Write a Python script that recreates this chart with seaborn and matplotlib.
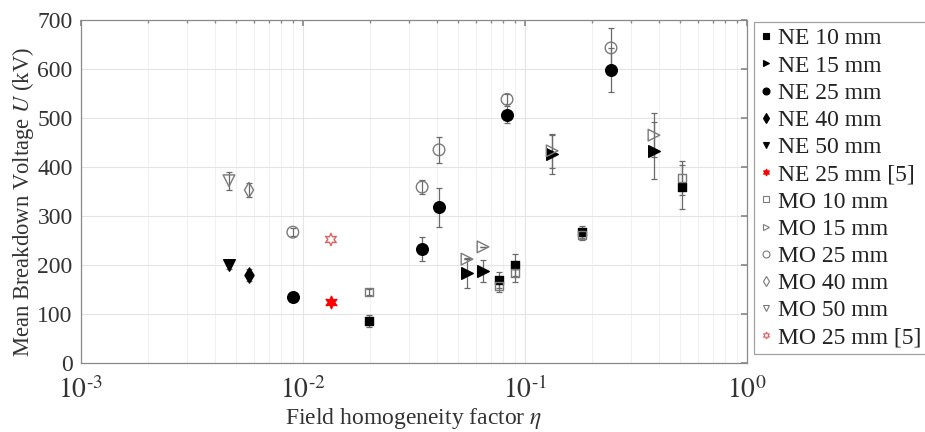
import matplotlib
matplotlib.use("Agg")
import matplotlib.pyplot as plt
from matplotlib.lines import Line2D
from matplotlib.ticker import FixedLocator, LogLocator, NullFormatter, FixedFormatter
import seaborn as sns
import pandas as pd

# ---- data ----
ne10_eta = [0.0198, 0.0764, 0.0902, 0.181, 0.509]
ne10_u = [86, 169, 200, 267, 359]
ne10_err = [12, 16, 22, 12, 45]
mo10_eta = [0.0198, 0.0764, 0.0902, 0.181, 0.509]
mo10_u = [145, 157, 184, 261, 378]
mo10_err = [6, 12, 18, 10, 35]

ne15_eta = [0.0548, 0.0647, 0.1325, 0.381]
ne15_u = [184, 188, 426, 433]
ne15_err = [31, 22, 40, 58]
mo15_eta = [0.0548, 0.0647, 0.1325, 0.381]
mo15_u = [212, 237, 433, 465]
mo15_err = [0, 0, 35, 45]

ne25_eta = [0.0090, 0.0344, 0.041, 0.083, 0.244]
ne25_u = [135, 233, 318, 507, 598]
ne25_err = [5, 25, 40, 18, 44]
mo25_eta = [0.0090, 0.0344, 0.041, 0.083, 0.244]
mo25_u = [267, 359, 435, 538, 643]
mo25_err = [8, 15, 27, 10, 40]

ne40_eta = [0.00571]
ne40_u = [179]
ne40_err = [12]
mo40_eta = [0.00571]
mo40_u = [353]
mo40_err = [14]

ne50_eta = [0.00464]
ne50_u = [200]
ne50_err = [8]
mo50_eta = [0.00464]
mo50_u = [372]
mo50_err = [18]

ne25ref_eta = [0.01336]
ne25ref_u = [125]
mo25ref_eta = [0.01336]
mo25ref_u = [252]

x_ticks = [1e-3, 1e-2, 1e-1, 1e0]
x_tick_labels = ["$10^{\\text{-}3}$", "$10^{\\text{-}2}$", "$10^{\\text{-}1}$", "$10^{0}$"]
y_ticks = [0, 100, 200, 300, 400, 500, 600, 700]
x_label = "Field homogeneity factor $\\eta$"
y_label = "Mean Breakdown Voltage $U$ (kV)"

# ---- style ----
sns.set_theme(style="white")
plt.rcParams["font.family"] = ["Liberation Serif", "DejaVu Serif"]
plt.rcParams["mathtext.fontset"] = "stix"

HEX = (6, 1, 0)
GRAY = "#7a7a7a"
ERRC = "#6a6a6a"
TXT = "#333333"

series = [
    # label, eta, u, err, marker, face, edge, size
    ("NE 10 mm", ne10_eta, ne10_u, ne10_err, "s", "black", "black", 36),
    ("NE 15 mm", ne15_eta, ne15_u, ne15_err, ">", "black", "black", 70),
    ("NE 25 mm", ne25_eta, ne25_u, ne25_err, "o", "black", "black", 70),
    ("NE 40 mm", ne40_eta, ne40_u, ne40_err, "d", "black", "black", 60),
    ("NE 50 mm", ne50_eta, ne50_u, ne50_err, "v", "black", "black", 70),
    ("NE 25 mm [5]", ne25ref_eta, ne25ref_u, None, HEX, "red", "red", 80),
    ("MO 10 mm", mo10_eta, mo10_u, mo10_err, "s", "none", GRAY, 36),
    ("MO 15 mm", mo15_eta, mo15_u, mo15_err, ">", "none", GRAY, 70),
    ("MO 25 mm", mo25_eta, mo25_u, mo25_err, "o", "none", GRAY, 70),
    ("MO 40 mm", mo40_eta, mo40_u, mo40_err, "d", "none", GRAY, 60),
    ("MO 50 mm", mo50_eta, mo50_u, mo50_err, "v", "none", GRAY, 70),
    ("MO 25 mm [5]", mo25ref_eta, mo25ref_u, None, HEX, "none", "#e06060", 80),
]

fig = plt.figure(figsize=(9.25, 4.32), dpi=100)
ax = fig.add_axes([81 / 925, 69 / 432, 666 / 925, 343 / 432])

handles = []
for label, eta, u, err, mk, fc, ec, s in series:
    df = pd.DataFrame({"eta": eta, "U": u})
    if err is not None:
        ax.errorbar(eta, u, yerr=err, fmt="none", ecolor=ERRC, elinewidth=0.9,
                    capsize=2, capthick=0.9, zorder=2)
    sns.scatterplot(data=df, x="eta", y="U", ax=ax, marker=mk, s=s,
                    color=fc if fc != "none" else "white",
                    facecolor=fc, edgecolor=ec, linewidth=1.0, zorder=3,
                    legend=False)
    handles.append(Line2D([], [], linestyle="none", marker=mk,
                          markerfacecolor=fc, markeredgecolor=ec,
                          markeredgewidth=0.8, markersize=5, label=label))

ax.set_xscale("log")
ax.set_xlim(1e-3, 1)
ax.set_ylim(0, 700)
ax.set_yticks(y_ticks)
ax.xaxis.set_major_locator(FixedLocator(x_ticks))
ax.xaxis.set_major_formatter(FixedFormatter(x_tick_labels))
ax.xaxis.set_minor_locator(LogLocator(base=10, subs=range(2, 10), numticks=10))
ax.xaxis.set_minor_formatter(NullFormatter())

ax.grid(True, which="major", color="#e4e4e4", linewidth=0.8)
ax.grid(True, which="minor", axis="x", color="#eeeeee", linewidth=0.6)
ax.set_axisbelow(True)

for sp in ax.spines.values():
    sp.set_color("#8a8a8a")
    sp.set_linewidth(0.9)

ax.tick_params(which="both", direction="in", top=True, right=True,
               colors="#8a8a8a", labelcolor=TXT)
ax.tick_params(which="major", length=4)
ax.tick_params(which="minor", length=2.5)
ax.tick_params(axis="y", labelsize=17, pad=6)
ax.tick_params(axis="x", labelsize=20, pad=10)

ax.set_xlabel(x_label, fontsize=17, color=TXT)
ax.set_ylabel(y_label, fontsize=16.3, color=TXT)
ax.xaxis.set_label_coords(0.5, -0.125)
ax.yaxis.set_label_coords(-0.067, 0.47)

leg = fig.legend(handles=handles, loc="upper left",
                 bbox_to_anchor=(754 / 925, 1 - 22 / 432),
                 fontsize=17, frameon=True, fancybox=False,
                 handlelength=0.5, handletextpad=0.25, labelspacing=0.24,
                 borderpad=0.25, borderaxespad=0)
leg.get_frame().set_edgecolor("#8a8a8a")
leg.get_frame().set_linewidth(0.9)
for t in leg.get_texts():
    t.set_color("#222222")

fig.savefig("out.png", dpi=100)
